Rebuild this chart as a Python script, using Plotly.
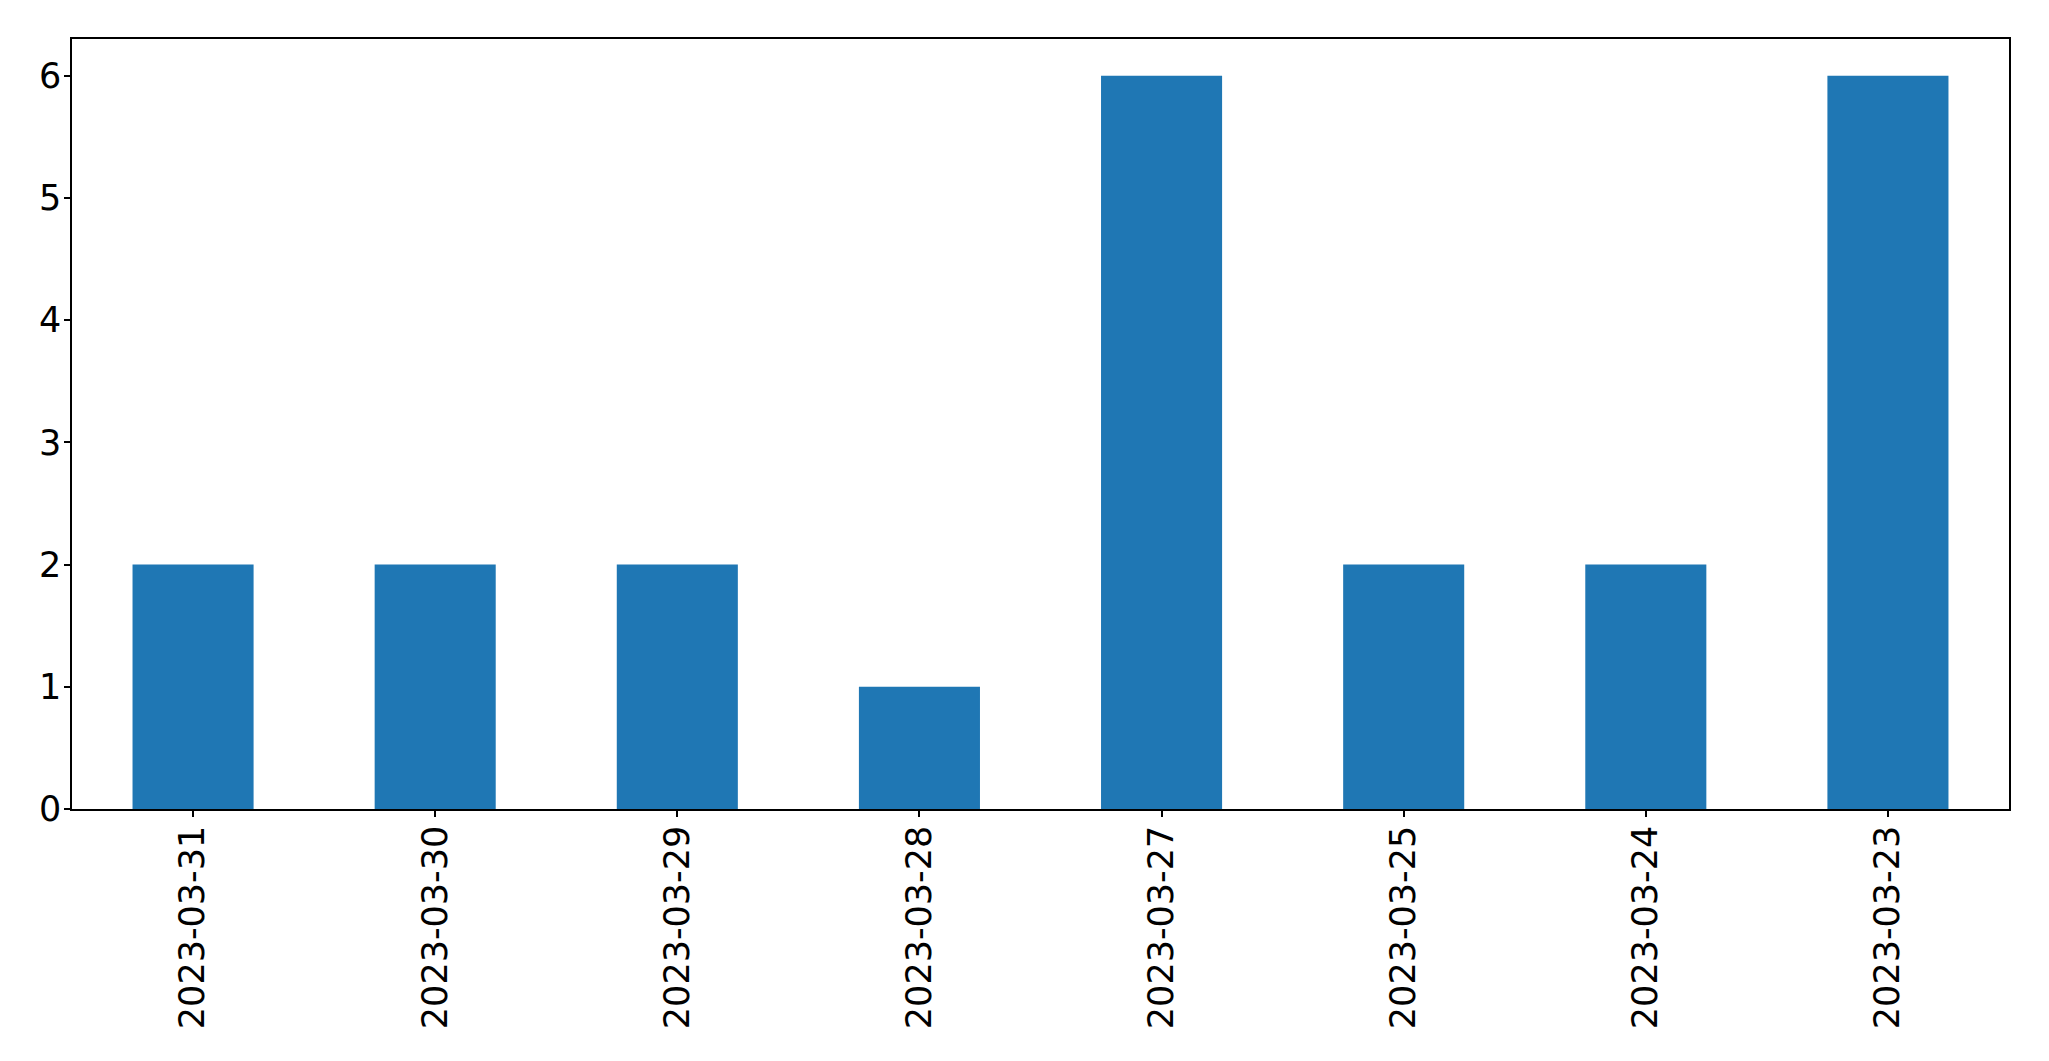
import plotly.graph_objects as go

dates = ["2023-03-31", "2023-03-30", "2023-03-29", "2023-03-28",
         "2023-03-27", "2023-03-25", "2023-03-24", "2023-03-23"]
counts = [2, 2, 2, 1, 6, 2, 2, 6]
y_ticks = [0, 1, 2, 3, 4, 5, 6]

fig = go.Figure(go.Bar(x=dates, y=counts, width=0.5, marker_color="#1f77b4",
                       marker_line_width=0))

font = dict(family="DejaVu Sans", size=35, color="black")
fig.update_layout(
    width=2041, height=1053,
    margin=dict(l=64, r=40, t=31, b=252, pad=0, autoexpand=False),
    plot_bgcolor="white", paper_bgcolor="white",
    showlegend=False,
    font=font,
)
fig.update_xaxes(type="category", range=[-0.5, 7.5], showline=True, linecolor="black",
                 linewidth=1.5, mirror=True, ticks="outside", ticklen=6, tickwidth=1.5,
                 tickcolor="black", tickangle=-90, showgrid=False, tickfont=font,
                 ticklabelstandoff=-5, automargin=False)
fig.update_yaxes(range=[0, 6.3], tickvals=y_ticks, showline=True, linecolor="black",
                 linewidth=1.5, mirror=True, ticks="outside", ticklen=6, tickwidth=1.5,
                 tickcolor="black", showgrid=False, zeroline=False, tickfont=font,
                 ticklabelstandoff=-4, automargin=False)
fig.write_html("out.html")
